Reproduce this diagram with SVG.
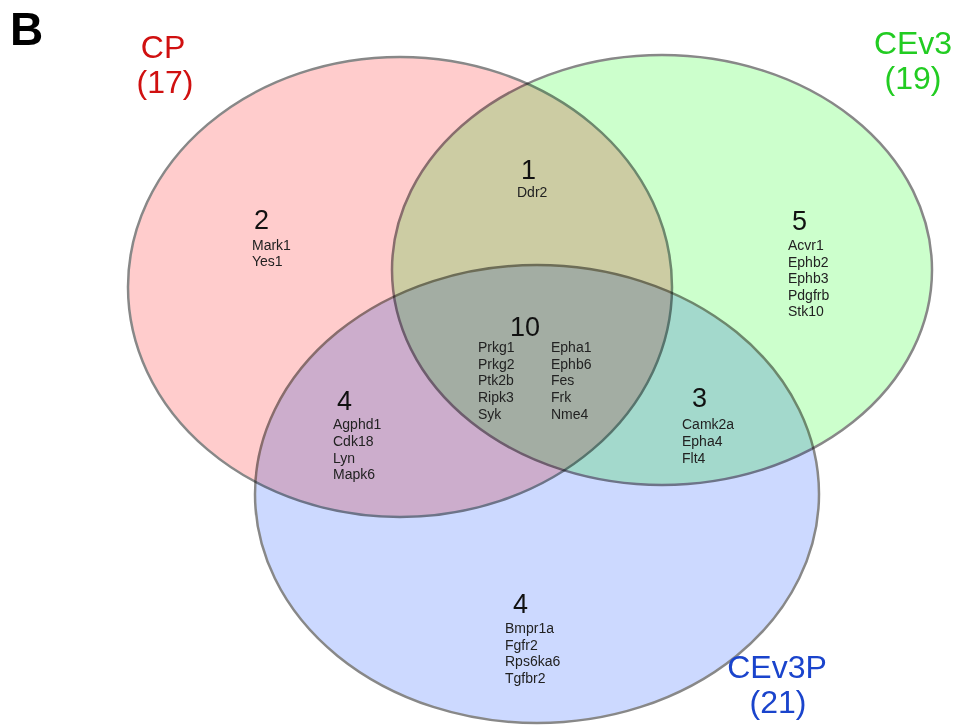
<svg xmlns="http://www.w3.org/2000/svg" width="964" height="725" viewBox="0 0 964 725">
<style>
.set{stroke:#888;stroke-width:2.5;mix-blend-mode:multiply}
.num{font-family:"Liberation Sans",Arial,sans-serif;font-size:27px;fill:#111}
.gene{font-family:"Liberation Sans",Arial,sans-serif;font-size:14px;fill:#222}
.lab{font-family:"Liberation Sans",Arial,sans-serif;font-size:32px;text-anchor:middle}
</style>
<rect width="964" height="725" fill="#fff"/>
<g id="sets">
<g id="set-CP"><ellipse class="set" cx="400" cy="287" rx="272" ry="230" fill="#ffcccc"/></g>
<g id="set-CEv3"><ellipse class="set" cx="662" cy="270" rx="270" ry="215" fill="#ccffcc"/></g>
<g id="set-CEv3P"><ellipse class="set" cx="537" cy="494" rx="282" ry="229" fill="#ccd9ff"/></g>
</g>
<g id="connectors"></g>
<text x="10" y="45" font-family="Liberation Sans,Arial,sans-serif" font-size="46" font-weight="bold" fill="#000">B</text>
<g id="label-CP" class="lab" fill="#d01010"><text x="163" y="58">CP</text><text x="165" y="93">(17)</text></g>
<g id="label-CEv3" class="lab" fill="#22cc22"><text x="913" y="54">CEv3</text><text x="913" y="89">(19)</text></g>
<g id="label-CEv3P" class="lab" fill="#1a44cc"><text x="777" y="678">CEv3P</text><text x="778" y="713">(21)</text></g>
<g id="region-CP-only"><text class="num" x="254" y="229">2</text><text class="gene" x="252" y="250">Mark1</text><text class="gene" x="252" y="266">Yes1</text></g>
<g id="region-CP-CEv3"><text class="num" x="521" y="179">1</text><text class="gene" x="517" y="197">Ddr2</text></g>
<g id="region-CEv3-only"><text class="num" x="792" y="230">5</text><text class="gene" x="788" y="250">Acvr1</text><text class="gene" x="788" y="266.5">Ephb2</text><text class="gene" x="788" y="283">Ephb3</text><text class="gene" x="788" y="299.5">Pdgfrb</text><text class="gene" x="788" y="316">Stk10</text></g>
<g id="region-all"><text class="num" x="510" y="336">10</text>
<text class="gene" x="478" y="352">Prkg1</text><text class="gene" x="478" y="368.7">Prkg2</text><text class="gene" x="478" y="385.3">Ptk2b</text><text class="gene" x="478" y="402">Ripk3</text><text class="gene" x="478" y="418.7">Syk</text>
<text class="gene" x="551" y="352">Epha1</text><text class="gene" x="551" y="368.7">Ephb6</text><text class="gene" x="551" y="385.3">Fes</text><text class="gene" x="551" y="402">Frk</text><text class="gene" x="551" y="418.7">Nme4</text></g>
<g id="region-CP-CEv3P"><text class="num" x="337" y="410">4</text><text class="gene" x="333" y="429">Agphd1</text><text class="gene" x="333" y="446">Cdk18</text><text class="gene" x="333" y="462.5">Lyn</text><text class="gene" x="333" y="479">Mapk6</text></g>
<g id="region-CEv3-CEv3P"><text class="num" x="692" y="407">3</text><text class="gene" x="682" y="429">Camk2a</text><text class="gene" x="682" y="446">Epha4</text><text class="gene" x="682" y="463">Flt4</text></g>
<g id="region-CEv3P-only"><text class="num" x="513" y="613">4</text><text class="gene" x="505" y="633">Bmpr1a</text><text class="gene" x="505" y="649.5">Fgfr2</text><text class="gene" x="505" y="666">Rps6ka6</text><text class="gene" x="505" y="683">Tgfbr2</text></g>
</svg>
